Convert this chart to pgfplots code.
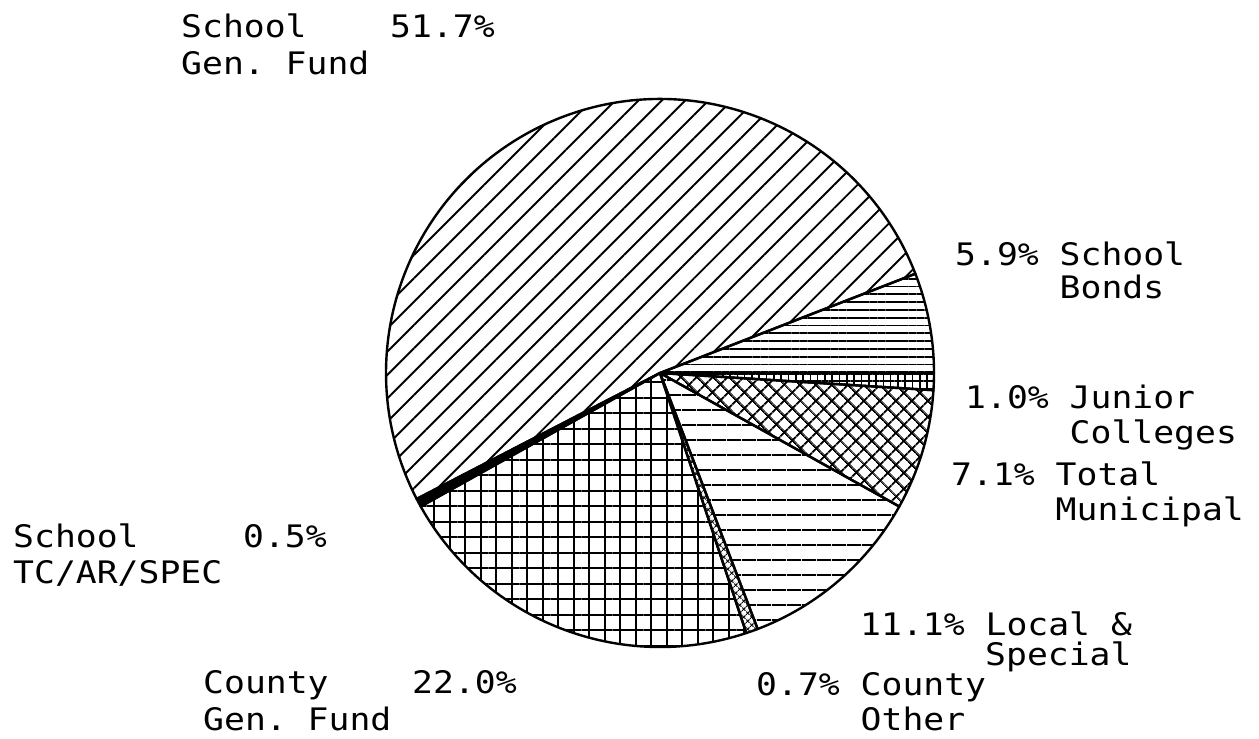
\documentclass[border=0pt]{standalone}
\usepackage{pgfplots}
\pgfplotsset{compat=1.18}
\usepackage{pgfplotstable}
\usetikzlibrary{patterns.meta}
\usepackage{fontspec}
\newfontfamily\pf{DejaVu Sans Mono}[FakeStretch=1.12]
\newcommand\pff{\pf\fontsize{31bp}{35bp}\selectfont}

% share of each slice (percent), counter-clockwise from 0 degrees
\pgfplotstableread{
name pct style
SchoolBonds 5.9 sBonds
SchoolGenFund 51.7 sSchoolGen
SchoolTC 0.5 sTC
CountyGenFund 22.0 sCountyGen
CountyOther 0.7 sCountyOther
LocalSpecial 11.1 sLocal
TotalMunicipal 7.1 sMunicipal
JuniorColleges 1.0 sJunior
}\piedata

\tikzset{
  sBonds/.style={pattern={Lines[angle=0,distance=7.8bp,line width=1.8bp]}},
  sSchoolGen/.style={pattern={Lines[angle=45,distance=16.5bp,line width=1.9bp]}},
  sTC/.style={fill=black},
  sCountyGen/.style={pattern={Hatch[angle=0,distance=15.5bp,line width=2bp]}},
  sCountyOther/.style={pattern={Hatch[angle=45,distance=6bp,line width=1.4bp]}},
  sLocal/.style={pattern={Lines[angle=0,distance=15bp,line width=1.9bp]}},
  sMunicipal/.style={pattern={Hatch[angle=45,distance=11.8bp,line width=2bp]}},
  sJunior/.style={pattern={Hatch[angle=0,distance=7.3bp,line width=1.6bp]}},
  lb/.style={anchor=base west,inner sep=0pt,font=\pff,text=black},
}

\begin{document}
\begin{tikzpicture}
\begin{axis}[x=1bp,y=1bp,xmin=0,xmax=1259,ymin=0,ymax=739,y dir=reverse,
  hide axis,clip=false]
\path (axis cs:0,0) rectangle (axis cs:1259,739);
\def\cx{660}\def\cy{373}\def\R{274bp}
\gdef\startang{0}
\pgfplotsforeachungrouped \i in {0,...,7}{%
  \pgfplotstablegetelem{\i}{pct}\of\piedata \let\pctval\pgfplotsretval
  \pgfplotstablegetelem{\i}{style}\of\piedata \let\stval\pgfplotsretval
  \pgfmathsetmacro\endang{\startang+3.6*\pctval}%
  \edef\cmd{\noexpand\filldraw[\stval,draw=black,line width=2.4bp,line join=round]
    (axis cs:\cx,\cy) -- ++(\startang:\R) arc[start angle=\startang,end angle=\endang,radius=\R] -- cycle;}%
  \cmd
  \global\let\startang\endang
}

\node[lb] at (axis cs:181,38) {School~~~~51.7\%};
\node[lb] at (axis cs:181,75) {Gen.~Fund};
\node[lb] at (axis cs:955,265) {5.9\%~School};
\node[lb] at (axis cs:955,298) {~~~~~Bonds};
\node[lb] at (axis cs:965,408) {1.0\%~Junior};
\node[lb] at (axis cs:965,443) {~~~~~Colleges};
\node[lb] at (axis cs:951,485) {7.1\%~Total};
\node[lb] at (axis cs:951,520) {~~~~~Municipal};
\node[lb] at (axis cs:13,547) {School~~~~~0.5\%};
\node[lb] at (axis cs:13,583) {TC/AR/SPEC};
\node[lb] at (axis cs:860,635) {11.1\%~Local~\&};
\node[lb] at (axis cs:985,665) {Special};
\node[lb] at (axis cs:756,695) {0.7\%~County};
\node[lb] at (axis cs:756,730) {~~~~~Other};
\node[lb] at (axis cs:203,693) {County~~~~22.0\%};
\node[lb] at (axis cs:203,730) {Gen.~Fund};
\end{axis}
\end{tikzpicture}
\end{document}
